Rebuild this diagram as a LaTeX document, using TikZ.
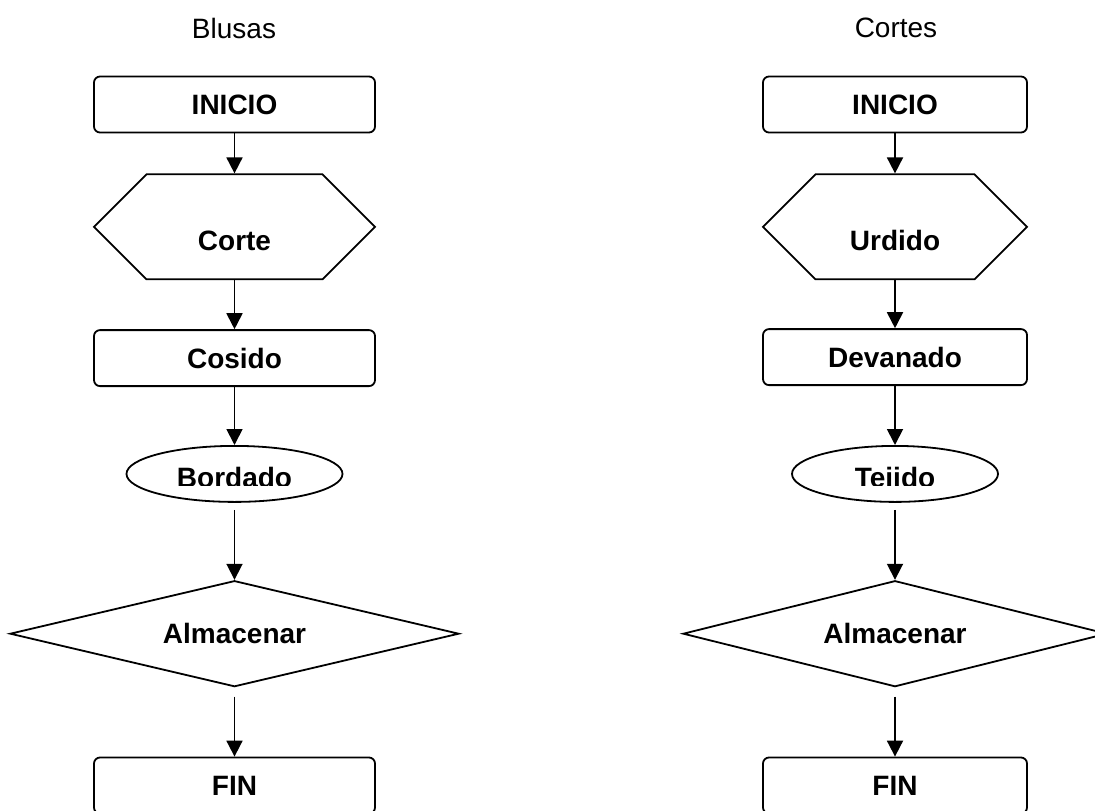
\documentclass[tikz,border=0pt]{standalone}
\usepackage{fontspec}
\setmainfont{Liberation Sans}
\usetikzlibrary{positioning,arrows.meta,shapes.geometric,shapes.symbols}
\tikzset{every node/.style={font=\fontsize{28}{33}\selectfont}}

\begin{document}
\begin{tikzpicture}[
    x=1pt, y=-1pt,
    line width=1.8pt,
    >={Triangle[width=16pt,length=16pt]},
    txt/.style={font=\fontsize{28}{33}\selectfont\bfseries},
    block/.style={rectangle, draw, rounded corners=6pt, minimum height=56pt, inner sep=0pt, txt},
    hexa/.style={signal, signal to=east and west, signal pointer angle=90, draw, minimum height=105pt, inner sep=0pt},
    term/.style={ellipse, draw, minimum height=56pt, inner sep=0pt},
    decision/.style={diamond, draw, aspect=4.2, minimum height=106pt, inner sep=0pt, txt}
]
\useasboundingbox (0,0) rectangle (1095,811);

% Blusas
\node (blusas) at (234,28) {Blusas};

\node (inicio) [block, minimum width=281pt] at (234.5,104.5) {INICIO};

\node (corte) [hexa, minimum width=281pt, below=40pt of inicio] {};
\node (cortetext) [txt, anchor=base] at ([yshift=-24pt]corte.center) {Corte};

\node (cosido) [block, minimum width=281pt, below=49pt of corte] {Cosido};

\node (bordado) [term, minimum width=216pt, below=58pt of cosido] {};
\begin{scope}
\clip (bordado.west |- bordado.north) rectangle ([yshift=-12pt]bordado.east);
\node (bordadotext) [txt, anchor=base] at ([yshift=-14pt]bordado.center) {Bordado};
\end{scope}

\node (almacenar) [decision, minimum width=449pt, below=77pt of bordado] {Almacenar};

\node (fin) [block, minimum width=281pt, below=69pt of almacenar] {FIN};

% Cortes
\node (cortes) at (896,28) {Cortes};

\node (inicio2) [block, minimum width=264pt] at (895,104.5) {INICIO};

\node (urdido) [hexa, minimum width=264pt, below=40pt of inicio2] {};
\node (urdidotext) [txt, anchor=base] at ([yshift=-24pt]urdido.center) {Urdido};

\node (devanado) [block, minimum width=264pt, below=48pt of urdido] {Devanado};

\node (tejido) [term, minimum width=206pt, below=59pt of devanado] {};
\begin{scope}
\clip (tejido.west |- tejido.north) rectangle ([yshift=-12pt]tejido.east);
\node (tejidotext) [txt, anchor=base] at ([yshift=-14pt]tejido.center) {Tejido};
\end{scope}

\node (almacenar2) [decision, minimum width=424pt, below=77pt of tejido] {Almacenar};

\node (fin2) [block, minimum width=264pt, below=69pt of almacenar2] {FIN};

\draw[->] (inicio) -- (corte);
\draw[->] (corte) -- (cosido);
\draw[->] (cosido) -- (bordado);
\draw[->, shorten <=7pt] (bordado) -- (almacenar);
\draw[->, shorten <=9pt] (almacenar) -- (fin);

\draw[->] (inicio2) -- (urdido);
\draw[->] (urdido) -- (devanado);
\draw[->] (devanado) -- (tejido);
\draw[->, shorten <=7pt] (tejido) -- (almacenar2);
\draw[->, shorten <=9pt] (almacenar2) -- (fin2);

\end{tikzpicture}
\end{document}
